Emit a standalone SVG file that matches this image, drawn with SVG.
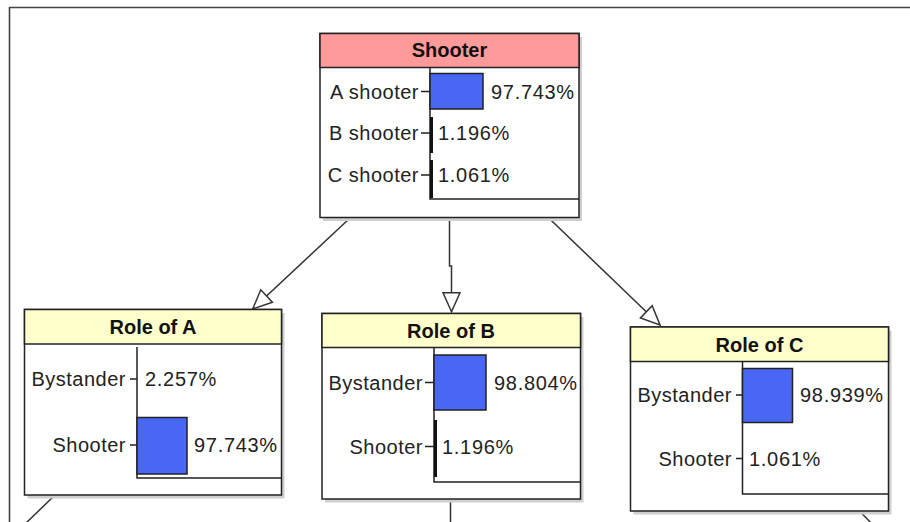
<svg xmlns="http://www.w3.org/2000/svg" width="910" height="522" viewBox="0 0 910 522">
<style>
.frame{fill:none;stroke:#444;stroke-width:1.6}
.shadow{fill:#cfcfcf}
.box{fill:#fff;stroke:#222;stroke-width:1.5}
.hdrP{fill:#ff9a9a;stroke:#222;stroke-width:1.5}
.hdrY{fill:#ffffcc;stroke:#222;stroke-width:1.5}
.title{font-family:"Liberation Sans",Arial,sans-serif;font-weight:bold;font-size:20px;fill:#111;text-anchor:middle}
.lbl{font-family:"Liberation Sans",Arial,sans-serif;font-size:20px;fill:#222;text-anchor:end;letter-spacing:0.5px}
.val{font-family:"Liberation Sans",Arial,sans-serif;font-size:20px;fill:#222;letter-spacing:0.7px}
.axis{fill:none;stroke:#222;stroke-width:1.5}
.bar{fill:#4a66f5;stroke:#222;stroke-width:1.5}
.thin{fill:none;stroke:#111;stroke-width:3}
.conn{fill:none;stroke:#333;stroke-width:1.5}
</style>
<defs>
<marker id="arr" markerWidth="24" markerHeight="22" refX="20" refY="10" orient="auto" markerUnits="userSpaceOnUse" overflow="visible">
<path d="M1,1.5 L20,10 L1,18.5 Z" fill="#fff" stroke="#333" stroke-width="1.5"/>
</marker>
</defs>

<g id="frame">
<path class="frame" d="M9.5,524 V7.5 H912"/>
</g>

<g id="connectors">
<path class="conn" d="M349.5,218.5 L252.7,309" marker-end="url(#arr)"/>
<path class="conn" d="M449.5,217.5 V266 H451.5 V311.7" marker-end="url(#arr)"/>
<path class="conn" d="M549.3,218.5 L660,325" marker-end="url(#arr)"/>
<path class="conn" d="M54,496 L25,524"/>
<path class="conn" d="M450.5,499 V524"/>
<path class="conn" d="M860,511.5 L872,524"/>
</g>

<g id="shooter">
<rect class="shadow" x="323" y="37" width="259" height="184"/>
<rect class="box" x="320" y="33.5" width="259" height="184"/>
<rect class="hdrP" x="320" y="33.5" width="259" height="34"/>
<text class="title" x="449.5" y="57">Shooter</text>
<path class="axis" d="M430,68 V199 H579"/>
<path class="axis" d="M421,91.5 H430 M421,133 H430 M421,175 H430"/>
<text class="lbl" x="419" y="98.5">A shooter</text>
<rect class="bar" x="430" y="73.5" width="53" height="35.5"/>
<text class="val" x="491" y="98.5">97.743%</text>
<text class="lbl" x="419" y="140">B shooter</text>
<path class="thin" d="M431.5,117 V153"/>
<text class="val" x="438" y="140">1.196%</text>
<text class="lbl" x="419" y="182">C shooter</text>
<path class="thin" d="M431.5,160 V198"/>
<text class="val" x="438" y="182">1.061%</text>
</g>

<g id="roleA">
<rect class="shadow" x="27.5" y="313" width="257" height="185.5"/>
<rect class="box" x="24.5" y="309.5" width="257" height="185.5"/>
<rect class="hdrY" x="24.5" y="309.5" width="257" height="34.5"/>
<text class="title" x="153" y="334">Role of A</text>
<path class="axis" d="M137,347 V478 H281.5"/>
<path class="axis" d="M130,379 H137 M130,445 H137"/>
<text class="lbl" x="126" y="386">Bystander</text>
<text class="val" x="145" y="386">2.257%</text>
<text class="lbl" x="126" y="452">Shooter</text>
<rect class="bar" x="137" y="417.5" width="50" height="56.5"/>
<text class="val" x="194" y="452">97.743%</text>
</g>

<g id="roleB">
<rect class="shadow" x="325" y="317" width="258.5" height="185.5"/>
<rect class="box" x="322" y="313.5" width="258.5" height="185.5"/>
<rect class="hdrY" x="322" y="313.5" width="258.5" height="34"/>
<text class="title" x="451" y="338">Role of B</text>
<path class="axis" d="M434,347.5 V482 H580.5"/>
<path class="axis" d="M425,382.5 H434 M425,446.5 H434"/>
<text class="lbl" x="423" y="389.5">Bystander</text>
<rect class="bar" x="434" y="355" width="52" height="55"/>
<text class="val" x="494" y="389.5">98.804%</text>
<text class="lbl" x="423" y="453.5">Shooter</text>
<path class="thin" d="M435.5,420 V477"/>
<text class="val" x="442" y="453.5">1.196%</text>
</g>

<g id="roleC">
<rect class="shadow" x="633.5" y="330.5" width="258" height="184"/>
<rect class="box" x="630.5" y="327" width="258" height="184"/>
<rect class="hdrY" x="630.5" y="327" width="258" height="34.5"/>
<text class="title" x="759.5" y="351.5">Role of C</text>
<path class="axis" d="M742.5,361.5 V494 H888.5"/>
<path class="axis" d="M736,395 H742.5 M736,458.5 H742.5"/>
<text class="lbl" x="732" y="402">Bystander</text>
<rect class="bar" x="742.5" y="368.5" width="50" height="54"/>
<text class="val" x="800" y="402">98.939%</text>
<text class="lbl" x="732" y="465.5">Shooter</text>
<text class="val" x="749" y="465.5">1.061%</text>
</g>
</svg>
